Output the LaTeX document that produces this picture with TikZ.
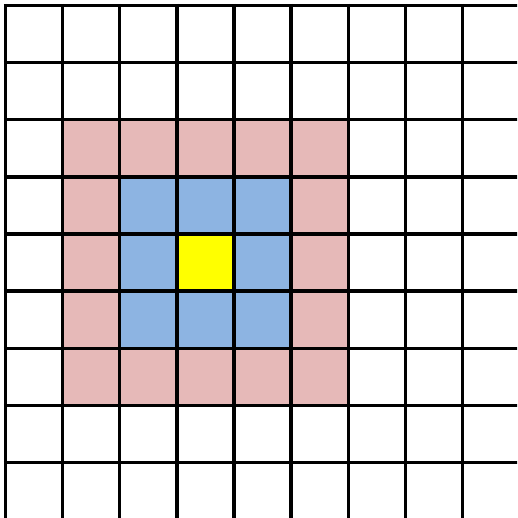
\documentclass[tikz,border=0pt]{standalone}
\definecolor{pinkc}{RGB}{230,185,184}
\definecolor{bluec}{RGB}{141,180,226}
\definecolor{yellowc}{RGB}{255,255,0}
\tikzset{gridline/.style={line width=3.4pt,black}}
\begin{document}
\begin{tikzpicture}[x=1pt,y=-1pt]
\useasboundingbox (0,0) rectangle (517,518);
\clip (0,0) rectangle (517,518);
\fill[white] (0,0) rectangle (517,518);
\def\s{57.125}
\def\o{5.5}
% pink ring
\fill[pinkc] (\o+1*\s,\o+2*\s) rectangle (\o+6*\s,\o+7*\s);
% blue ring
\fill[bluec] (\o+2*\s,\o+3*\s) rectangle (\o+5*\s,\o+6*\s);
% yellow centre
\fill[yellowc] (\o+3*\s,\o+4*\s) rectangle (\o+4*\s,\o+5*\s);
% grid
\foreach \i in {0,...,9} {
  \draw[gridline] (\o+\i*\s,\o-1.7) -- (\o+\i*\s,530);
  \draw[gridline] (\o-1.7,\o+\i*\s) -- (530,\o+\i*\s);
}
\end{tikzpicture}
\end{document}
